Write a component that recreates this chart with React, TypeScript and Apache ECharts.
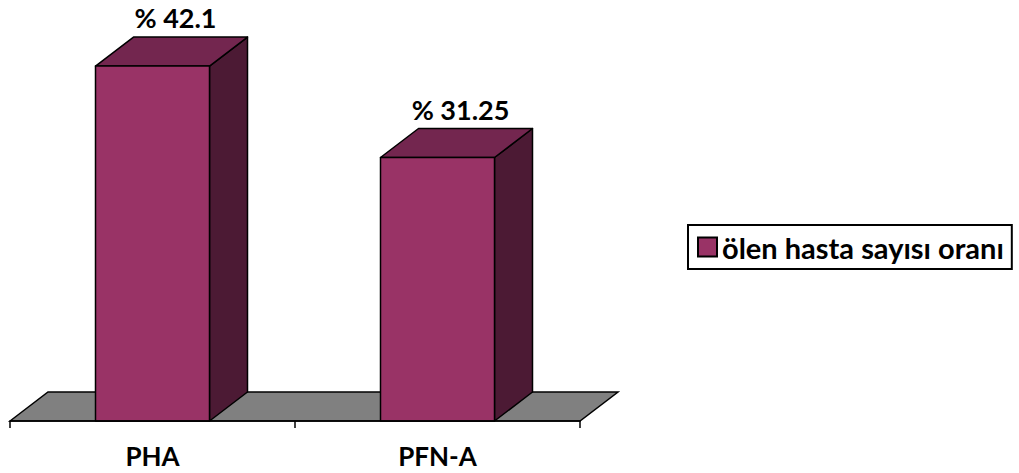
import React, { useEffect, useRef } from "react";
import * as echarts from "echarts";

// Mortality ratio per fixation method
const categories = ["PHA", "PFN-A"];
const seriesName = "ölen hasta sayısı oranı";
const values = [42.1, 31.25];

const FRONT = "#993366";
const TOP = "#73264f";
const SIDE = "#4c1a34";
const FLOOR = "#808080";
const DX = 38;
const DY = -29;
const FONT = "Lato, 'Open Sans', sans-serif";

export default function App() {
  const ref = useRef<HTMLDivElement>(null);

  useEffect(() => {
    if (!ref.current) return;
    const chart = echarts.init(ref.current, undefined, { renderer: "svg" });

    const floorSeries = {
      type: "custom",
      name: "floor",
      silent: true,
      z: 1,
      data: [[0, 0]],
      renderItem: (_p: any, api: any) => {
        const c0 = api.coord([0, 0]);
        const c1 = api.coord([categories.length - 1, 0]);
        const bw = api.size([1, 0])[0];
        const l = c0[0] - bw / 2;
        const r = c1[0] + bw / 2;
        const y = c0[1];
        return {
          type: "polygon",
          shape: { points: [[l, y], [l + DX, y + DY], [r + DX, y + DY], [r, y]] },
          style: { fill: FLOOR, stroke: "#000", lineWidth: 1.5 },
        };
      },
    };

    const barSeries = {
      type: "custom",
      name: seriesName,
      z: 2,
      itemStyle: { color: FRONT },
      data: values.map((v, i) => [i, v]),
      renderItem: (_p: any, api: any) => {
        const cat = api.value(0);
        const val = api.value(1);
        const top = api.coord([cat, val]);
        const base = api.coord([cat, 0]);
        const w = api.size([1, 0])[0] * 0.4;
        const x0 = top[0] - w / 2;
        const x1 = top[0] + w / 2;
        const yT = top[1];
        const yB = base[1];
        const edge = { stroke: "#000", lineWidth: 1.5, lineJoin: "round" };
        return {
          type: "group",
          children: [
            {
              type: "polygon",
              shape: { points: [[x1, yB], [x1 + DX, yB + DY], [x1 + DX, yT + DY], [x1, yT]] },
              style: { fill: SIDE, ...edge },
            },
            {
              type: "polygon",
              shape: { points: [[x0, yT], [x0 + DX, yT + DY], [x1 + DX, yT + DY], [x1, yT]] },
              style: { fill: TOP, ...edge },
            },
            {
              type: "rect",
              shape: { x: x0, y: yT, width: w, height: yB - yT },
              style: { fill: FRONT, ...edge },
            },
            {
              type: "text",
              style: {
                text: "% " + val,
                x: top[0] + DX / 2 + 4,
                y: yT + DY - 6,
                align: "center",
                verticalAlign: "bottom",
                font: `bold 27px ${FONT}`,
                fill: "#000",
              },
            },
          ],
        };
      },
    };

    chart.setOption({
      animation: false,
      backgroundColor: "#fff",
      grid: { left: 10, right: 439, top: 41.6, bottom: 52, containLabel: false },
      legend: {
        data: [seriesName],
        left: 688,
        top: 225,
        orient: "vertical",
        icon: "rect",
        itemWidth: 19,
        itemHeight: 19,
        itemGap: 0,
        padding: [7, 8, 7, 9],
        borderColor: "#000",
        borderWidth: 2,
        borderRadius: 0,
        itemStyle: { color: FRONT, borderColor: "#000", borderWidth: 2 },
        textStyle: { fontFamily: FONT, fontWeight: "bold", fontSize: 29, color: "#000", lineHeight: 30 },
      },
      xAxis: {
        type: "category",
        data: categories,
        axisLine: { show: true, lineStyle: { color: "#000", width: 1.5 } },
        axisTick: { show: true, length: 7, lineStyle: { color: "#000", width: 1.5 } },
        axisLabel: { margin: 22, fontFamily: FONT, fontWeight: "bold", fontSize: 26, color: "#000" },
        z: 5,
      },
      yAxis: {
        type: "value",
        min: 0,
        max: 45,
        show: false,
        splitLine: { show: false },
      },
      series: [floorSeries, barSeries],
    });

    return () => chart.dispose();
  }, []);

  return (
    <div
      ref={ref}
      style={{ position: "fixed", left: 0, top: 0, width: 1019, height: 473 }}
    />
  );
}
